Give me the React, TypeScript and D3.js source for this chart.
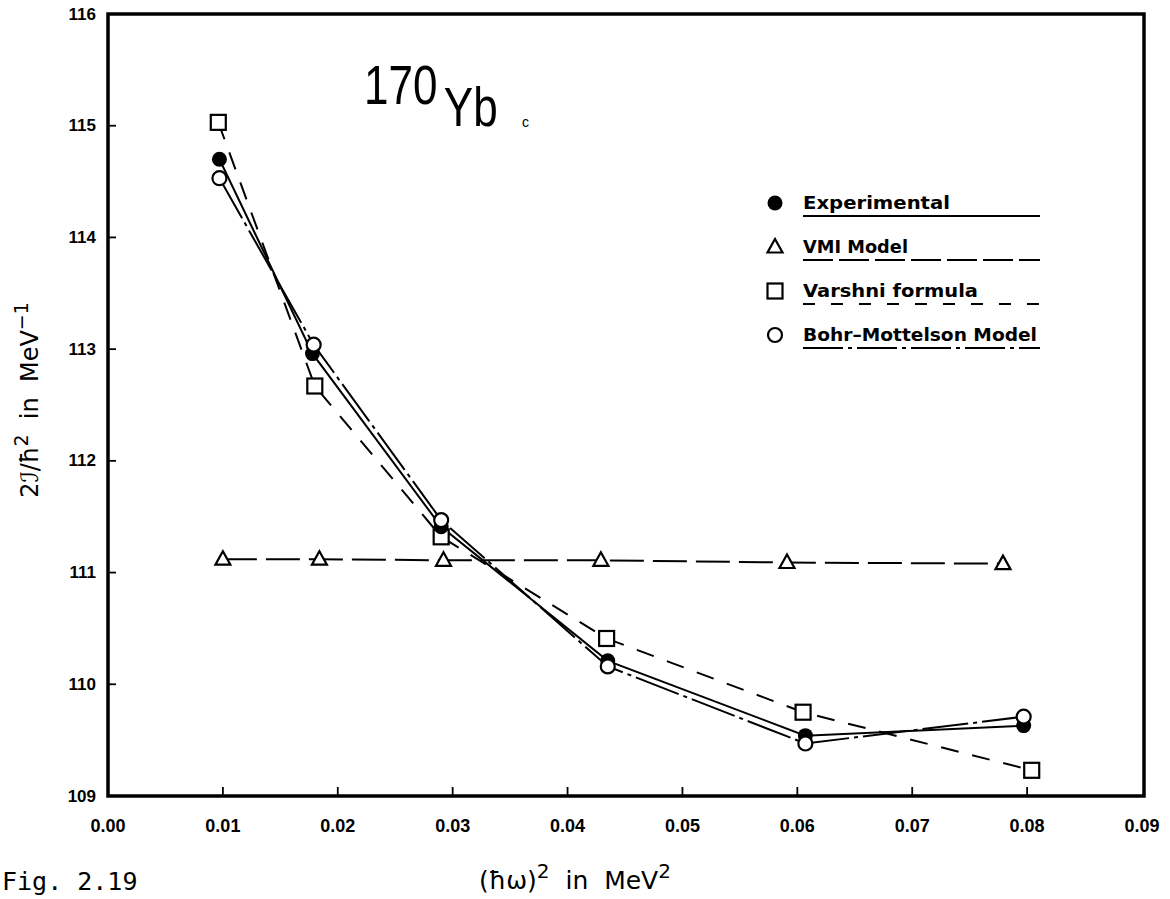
import React from 'react';
import * as d3 from 'd3';

const xTickValues = [0.0, 0.01, 0.02, 0.03, 0.04, 0.05, 0.06, 0.07, 0.08, 0.09];
const xTickLabels = ['0.00', '0.01', '0.02', '0.03', '0.04', '0.05', '0.06', '0.07', '0.08', '0.09'];
const yTickValues = [109, 110, 111, 112, 113, 114, 115, 116];

const experimentalX = [0.0097, 0.0178, 0.029, 0.0435, 0.0607, 0.0797];
const experimentalY = [114.7, 112.96, 111.41, 110.21, 109.54, 109.63];
const vmiX = [0.01, 0.0184, 0.0292, 0.0429, 0.0591, 0.0779];
const vmiY = [111.12, 111.12, 111.11, 111.11, 111.09, 111.08];
const varshniX = [0.0096, 0.018, 0.029, 0.0434, 0.0605, 0.0804];
const varshniY = [115.03, 112.67, 111.32, 110.41, 109.75, 109.23];
const bmX = [0.0097, 0.0179, 0.029, 0.0435, 0.0607, 0.0797];
const bmY = [114.53, 113.04, 111.47, 110.16, 109.47, 109.71];

const legendLabels = ['Experimental', 'VMI Model', 'Varshni formula', 'Bohr\u2013Mottelson Model'];

const W = 1170;
const H = 899;
const left = 108;
const right = 1142;
const top = 14;
const bottom = 796;

const x = d3.scaleLinear().domain([0, 0.09]).range([left, right]);
const y = d3.scaleLinear().domain([109, 116]).range([bottom, top]);

const zip = (xs: number[], ys: number[]) => xs.map((v, i) => [v, ys[i]] as [number, number]);
const line = d3
  .line<[number, number]>()
  .x((d) => x(d[0]))
  .y((d) => y(d[1]));

const TRI = 'M0,-8 L7.5,5.5 L-7.5,5.5 Z';

const Marker = ({ kind, cx, cy }: { kind: string; cx: number; cy: number }) => {
  if (kind === 'filled') return <circle cx={cx} cy={cy} r={7.5} fill="#000" />;
  if (kind === 'open') return <circle cx={cx} cy={cy} r={7} fill="#fff" stroke="#000" strokeWidth={2.2} />;
  if (kind === 'square')
    return <rect x={cx - 7.5} y={cy - 7.5} width={15} height={15} fill="#fff" stroke="#000" strokeWidth={2.2} />;
  return <path d={TRI} transform={`translate(${cx},${cy})`} fill="#fff" stroke="#000" strokeWidth={2.2} strokeLinejoin="miter" />;
};

const series = [
  { xs: experimentalX, ys: experimentalY, kind: 'filled', dash: undefined as string | undefined },
  { xs: vmiX, ys: vmiY, kind: 'triangle', dash: '34,9' },
  { xs: varshniX, ys: varshniY, kind: 'square', dash: '18,14' },
  { xs: bmX, ys: bmY, kind: 'open', dash: '46,5,4,5' },
];

export default function App() {
  const tickFont = { fontFamily: '"Liberation Sans", Arial, sans-serif', fontWeight: 700 as const };
  const legendY0 = 203;
  const legendStep = 44;
  return (
    <svg width={W} height={H} style={{ position: 'absolute', left: 0, top: 0, background: '#fff' }}>
      <rect x={0} y={0} width={W} height={H} fill="#fff" />
      {/* series lines */}
      {series.map((s, i) => (
        <path
          key={'l' + i}
          d={line(zip(s.xs, s.ys)) || ''}
          fill="none"
          stroke="#000"
          strokeWidth={2}
          strokeDasharray={s.dash}
        />
      ))}
      {/* markers */}
      {[series[1], series[2], series[0], series[3]].map((s, i) =>
        s.xs.map((v, j) => <Marker key={`m${i}-${j}`} kind={s.kind} cx={x(v)} cy={y(s.ys[j])} />)
      )}
      {/* frame */}
      <path
        d={`M${left},${top} H${right + 2} V${bottom} H${left} Z`}
        fill="none"
        stroke="#000"
        strokeWidth={3.5}
      />
      {/* y ticks */}
      {yTickValues.map((v) => (
        <g key={'yt' + v}>
          {v > 109 && v < 116 && (
            <line x1={left} x2={left + 8} y1={y(v)} y2={y(v)} stroke="#000" strokeWidth={1.8} />
          )}
          <text x={left - 12} y={y(v)} textAnchor="end" dominantBaseline="central" fontSize={17} {...tickFont}>
            {v}
          </text>
        </g>
      ))}
      {/* x ticks */}
      {xTickValues.map((v, i) => (
        <g key={'xt' + i}>
          {i > 0 && i < xTickValues.length - 1 && (
            <line x1={x(v)} x2={x(v)} y1={bottom} y2={bottom - 9} stroke="#000" strokeWidth={1.8} />
          )}
          <text x={x(v)} y={826} textAnchor="middle" dominantBaseline="central" fontSize={18} {...tickFont}>
            {xTickLabels[i]}
          </text>
        </g>
      ))}
      {/* title */}
      <text transform="translate(364,104) scale(0.8,1)" fontSize={55} fontFamily='"Liberation Sans", Arial, sans-serif'>
        <tspan>170</tspan>
        <tspan dx={8} dy={22}>Yb</tspan>
      </text>
      <text x={522} y={127} fontSize={14} fontFamily='"Liberation Sans", Arial, sans-serif'>
        c
      </text>
      {/* legend */}
      {legendLabels.map((lab, i) => {
        const ly = legendY0 + i * legendStep;
        const kinds = ['filled', 'triangle', 'square', 'open'];
        const dashes = [undefined, '30,6', '12,16', '40,5,4,5'];
        const widths = [147, 105, 175, 234];
        return (
          <g key={'lg' + i}>
            <Marker kind={kinds[i]} cx={775} cy={ly} />
            <text
              x={803}
              y={ly + 6}
              fontSize={17}
              fontFamily='"DejaVu Sans", sans-serif'
              fontWeight={700}
              textLength={widths[i]}
              lengthAdjust="spacingAndGlyphs"
            >
              {lab}
            </text>
            <line x1={803} x2={1040} y1={ly + 13} y2={ly + 13} stroke="#000" strokeWidth={2} strokeDasharray={dashes[i]} />
          </g>
        );
      })}
      {/* y axis label */}
      <text
        transform="translate(38,400) rotate(-90)"
        textAnchor="middle"
        fontSize={24}
        fontFamily='"DejaVu Sans", sans-serif'
        style={{ whiteSpace: 'pre' }}
      >
        <tspan>2ℐ/ħ</tspan>
        <tspan dy={-10} fontSize={19}>2</tspan>
        <tspan dy={10}>{'  in  MeV'}</tspan>
        <tspan dy={-10} fontSize={19}>−1</tspan>
      </text>
      {/* x axis label */}
      <text x={575} y={889} textAnchor="middle" fontSize={25} fontFamily='"DejaVu Sans", sans-serif' style={{ whiteSpace: 'pre' }}>
        <tspan>(ħω)</tspan>
        <tspan dy={-11} fontSize={20}>2</tspan>
        <tspan dy={11}>{'  in  MeV'}</tspan>
        <tspan dy={-11} fontSize={20}>2</tspan>
      </text>
      {/* figure number */}
      <text x={2} y={890} fontSize={25} fontFamily='"DejaVu Sans Mono", monospace'>
        Fig. 2.19
      </text>
    </svg>
  );
}
